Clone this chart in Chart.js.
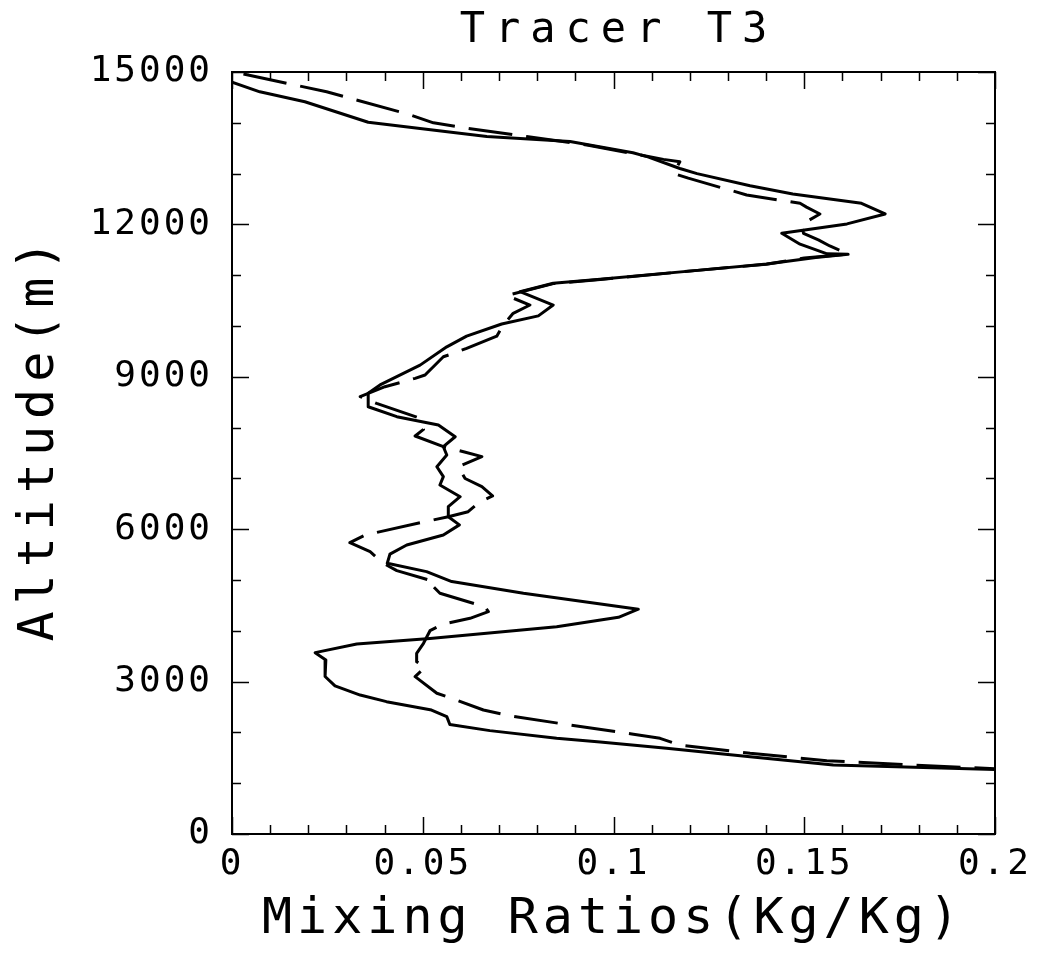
<!DOCTYPE html>
<html>
<head>
<meta charset="utf-8">
<title>Tracer T3</title>
<script src="https://cdn.jsdelivr.net/npm/chart.js@4.4.1/dist/chart.umd.min.js"></script>
<style>
  html, body { margin: 0; padding: 0; background: #fff; }
  canvas { display: block; }
</style>
</head>
<body>
<canvas id="tracerChart" width="1037" height="954"></canvas>
<script>
// Tracer T3 vertical profile

const chartTitle = 'Tracer T3';
const xTitle = 'Mixing Ratios(Kg/Kg)';
const yTitle = 'Altitude(m)';

// axis ticks
const xTicks = [0, 0.05, 0.1, 0.15, 0.2];
const xMinorTicks = [0.01, 0.02, 0.03, 0.04, 0.06, 0.07, 0.08, 0.09, 0.11, 0.12, 0.13, 0.14, 0.16, 0.17, 0.18, 0.19];
const yTicks = [0, 3000, 6000, 9000, 12000, 15000];
const yMinorTicks = [1000, 2000, 4000, 5000, 7000, 8000, 10000, 11000, 13000, 14000];

// solid profile (mixing ratio, altitude)
const solidX = [0.0000, 0.0073, 0.0191, 0.0357, 0.0493, 0.0668, 0.0886, 0.1051, 0.1090, 0.1174,
  0.1219, 0.1358, 0.1470, 0.1650, 0.1712, 0.1612, 0.1441, 0.1489, 0.1560, 0.1615,
  0.1530, 0.1402, 0.1227, 0.0965, 0.0842, 0.0755, 0.0842, 0.0803, 0.0707, 0.0615,
  0.0563, 0.0493, 0.0388, 0.0357, 0.0357, 0.0432, 0.0541, 0.0585, 0.0554, 0.0563,
  0.0537, 0.0554, 0.0545, 0.0598, 0.0567, 0.0567, 0.0596, 0.0554, 0.0458, 0.0414,
  0.0407, 0.0510, 0.0576, 0.0764, 0.1065, 0.1013, 0.0851, 0.0519, 0.0327, 0.0218,
  0.0246, 0.0244, 0.0270, 0.0336, 0.0405, 0.0523, 0.0563, 0.0571, 0.0676, 0.0851,
  0.0965, 0.1139, 0.1358, 0.1576, 0.2000];
const solidY = [14800, 14610, 14415, 14010, 13890, 13730, 13630, 13410, 13330, 13100,
  13000, 12760, 12600, 12415, 12205, 12010, 11825, 11610, 11420, 11410,
  11350, 11220, 11100, 10920, 10840, 10675, 10413, 10200, 10040, 9800,
  9590, 9230, 8840, 8675, 8410, 8215, 8050, 7820, 7624, 7460,
  7230, 7035, 6870, 6640, 6445, 6245, 6085, 5885, 5690, 5510,
  5330, 5165, 4970, 4740, 4425, 4265, 4080, 3850, 3740, 3570,
  3425, 3100, 2915, 2735, 2605, 2440, 2310, 2155, 2035, 1885,
  1810, 1686, 1522, 1360, 1270];

// dashed profile (mixing ratio, altitude)
const dashX = [0.0030, 0.0248, 0.0462, 0.0528, 0.0619, 0.0772, 0.0934, 0.1131, 0.1174, 0.1157,
  0.1196, 0.1349, 0.1489, 0.1506, 0.1541, 0.1493, 0.1498, 0.1537, 0.1567, 0.1615,
  0.1500, 0.1400, 0.1220, 0.0965, 0.0842, 0.0720, 0.0781, 0.0737, 0.0711, 0.0694,
  0.0615, 0.0576, 0.0554, 0.0506, 0.0480, 0.0440, 0.0401, 0.0336, 0.0379, 0.0488,
  0.0502, 0.0480, 0.0554, 0.0607, 0.0655, 0.0593, 0.0611, 0.0655, 0.0683, 0.0650,
  0.0619, 0.0567, 0.0506, 0.0349, 0.0309, 0.0362, 0.0397, 0.0432, 0.0532, 0.0528,
  0.0545, 0.0663, 0.0672, 0.0624, 0.0554, 0.0519, 0.0502, 0.0484, 0.0484, 0.0506,
  0.0480, 0.0537, 0.0576, 0.0659, 0.0729, 0.0886, 0.1048, 0.1122, 0.1174, 0.1358,
  0.1559, 0.1838, 0.2000];
const dashY = [14960, 14610, 14170, 14000, 13890, 13730, 13560, 13280, 13235, 13005,
  12910, 12580, 12415, 12340, 12205, 12000, 11825, 11695, 11575, 11417,
  11340, 11215, 11095, 10915, 10835, 10600, 10413, 10250, 10020, 9800,
  9560, 9450, 9395, 9035, 8970, 8885, 8805, 8610, 8477, 8195,
  7966, 7835, 7624, 7526, 7428, 7231, 6998, 6837, 6654, 6542,
  6345, 6246, 6148, 5886, 5734, 5557, 5328, 5184, 4967, 4869,
  4738, 4474, 4376, 4246, 4134, 4002, 3754, 3557, 3392, 3281,
  3097, 2770, 2671, 2441, 2323, 2146, 1969, 1883, 1752, 1588,
  1443, 1339, 1286];

const FONT = "'DejaVu Sans Mono', monospace";

function toPoints(xs, ys) {
  return xs.map((x, i) => ({ x: x, y: ys[i] }));
}

function drawSpaced(ctx, text, x, y, size, spacing, angle) {
  ctx.save();
  ctx.translate(x, y);
  if (angle) ctx.rotate(angle);
  ctx.font = size + 'px ' + FONT;
  ctx.letterSpacing = spacing + 'px';
  ctx.textAlign = 'center';
  ctx.textBaseline = 'middle';
  ctx.fillStyle = '#000';
  // letterSpacing adds a trailing gap, shift back half of it
  ctx.fillText(text, spacing / 2, 0);
  ctx.restore();
}

// frame, inward ticks on all four sides, titles
const framePlugin = {
  id: 'frame',
  beforeDraw(chart) {
    chart.ctx.letterSpacing = '3px';
  },
  afterDraw(chart) {
    const ctx = chart.ctx;
    const ca = chart.chartArea;
    const xs = chart.scales.x;
    const ys = chart.scales.y;
    ctx.save();
    ctx.letterSpacing = '0px';
    ctx.strokeStyle = '#000';
    ctx.lineWidth = 2;
    ctx.strokeRect(ca.left, ca.top, ca.right - ca.left, ca.bottom - ca.top);

    ctx.lineWidth = 1.5;
    ctx.beginPath();
    const xMark = (v, len) => {
      const px = Math.round(xs.getPixelForValue(v)) + 0.5;
      ctx.moveTo(px, ca.bottom); ctx.lineTo(px, ca.bottom - len);
      ctx.moveTo(px, ca.top); ctx.lineTo(px, ca.top + len);
    };
    const yMark = (v, len) => {
      const py = Math.round(ys.getPixelForValue(v)) + 0.5;
      ctx.moveTo(ca.left, py); ctx.lineTo(ca.left + len, py);
      ctx.moveTo(ca.right, py); ctx.lineTo(ca.right - len, py);
    };
    xTicks.forEach(v => xMark(v, 17));
    xMinorTicks.forEach(v => xMark(v, 9));
    yTicks.forEach(v => yMark(v, 17));
    yMinorTicks.forEach(v => yMark(v, 9));
    ctx.stroke();
    ctx.restore();

    const cx = (ca.left + ca.right) / 2;
    drawSpaced(ctx, chartTitle, cx, 31, 42, 10, 0);
    drawSpaced(ctx, xTitle, cx - 3, 920, 50, 5, 0);
    drawSpaced(ctx, yTitle, 40, 441, 50, 7, -Math.PI / 2);
  }
};

new Chart(document.getElementById('tracerChart'), {
  type: 'scatter',
  data: {
    datasets: [
      {
        label: 'solid',
        data: toPoints(solidX, solidY),
        showLine: true,
        borderColor: '#000',
        borderWidth: 3,
        pointRadius: 0,
        tension: 0,
        borderJoinStyle: 'round'
      },
      {
        label: 'dashed',
        data: toPoints(dashX, dashY),
        showLine: true,
        borderColor: '#000',
        borderWidth: 3,
        borderDash: [44, 14],
        pointRadius: 0,
        tension: 0,
        borderJoinStyle: 'round'
      }
    ]
  },
  options: {
    responsive: false,
    animation: false,
    events: [],
    layout: { padding: { top: 72, right: 42, bottom: 0, left: 0 } },
    plugins: {
      legend: { display: false },
      tooltip: { enabled: false },
      title: { display: false }
    },
    scales: {
      x: {
        type: 'linear',
        min: 0,
        max: 0.2,
        grid: { display: false, drawTicks: false },
        border: { display: false },
        afterBuildTicks: s => { s.ticks = xTicks.map(v => ({ value: v })); },
        afterFit: s => { s.height = 120; },
        ticks: {
          autoSkip: false,
          maxRotation: 0,
          padding: 9,
          color: '#000',
          font: { family: FONT, size: 36 },
          callback: v => String(+v.toFixed(2))
        }
      },
      y: {
        type: 'linear',
        min: 0,
        max: 15000,
        grid: { display: false, drawTicks: false },
        border: { display: false },
        afterBuildTicks: s => { s.ticks = yTicks.map(v => ({ value: v })); },
        afterFit: s => { s.width = 232; },
        ticks: {
          autoSkip: false,
          padding: 19,
          color: '#000',
          font: { family: FONT, size: 36 },
          callback: v => String(v)
        }
      }
    }
  },
  plugins: [framePlugin]
});
</script>
</body>
</html>
